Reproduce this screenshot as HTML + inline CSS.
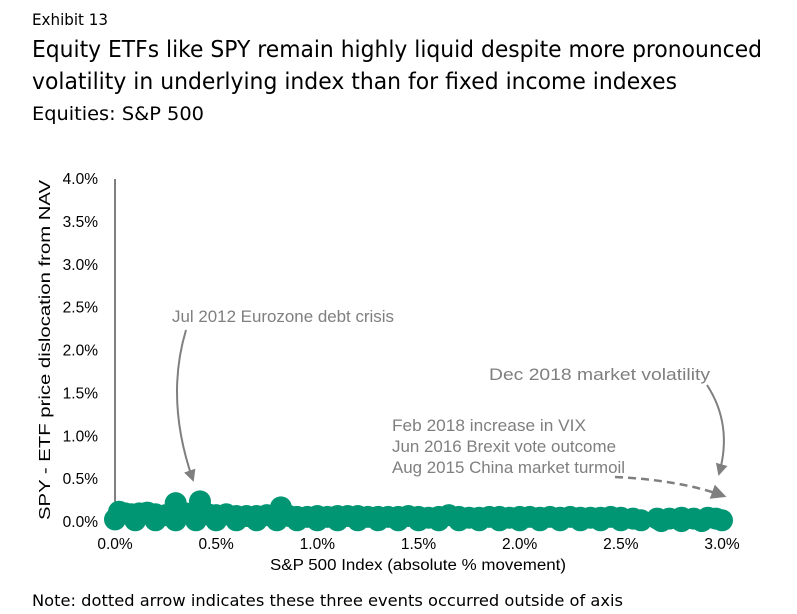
<!DOCTYPE html>
<html><head><meta charset="utf-8"><style>
body{margin:0;background:#fff}
svg{display:block;font-family:"Liberation Sans",sans-serif}
.t{font-family:"DejaVu Sans","Liberation Sans",sans-serif;fill:#000}
.ann{fill:#7f7f7f;font-size:17px;font-family:"Liberation Sans",sans-serif}
.tick{font-size:15.5px;fill:#000;font-family:"Liberation Sans",sans-serif}
</style></head><body>
<svg id="chart" width="797" height="614" viewBox="0 0 797 614">
<text class="t" x="32" y="25" font-size="16" textLength="76" lengthAdjust="spacingAndGlyphs">Exhibit 13</text>
<text class="t" x="32" y="57" font-size="23" textLength="730" lengthAdjust="spacingAndGlyphs">Equity ETFs like SPY remain highly liquid despite more pronounced</text>
<text class="t" x="32" y="89" font-size="23" textLength="645" lengthAdjust="spacingAndGlyphs">volatility in underlying index than for fixed income indexes</text>
<text class="t" x="32" y="120" font-size="19" textLength="172" lengthAdjust="spacingAndGlyphs">Equities: S&amp;P 500</text>
<text class="t" x="32" y="606" font-size="16" textLength="591" lengthAdjust="spacingAndGlyphs">Note: dotted arrow indicates these three events occurred outside of axis</text>
<g id="axes"></g>
<g id="points"></g>
<g id="annotations">
<defs><marker id="ah" markerWidth="6" markerHeight="6" refX="5" refY="3" orient="auto" markerUnits="strokeWidth"><path d="M0,0 L6,3 L0,6 z" fill="#7f7f7f"/></marker></defs>
<text class="ann" x="172" y="322" textLength="222" lengthAdjust="spacingAndGlyphs">Jul 2012 Eurozone debt crisis</text>
<path d="M186,330 Q165,400 193,480" fill="none" stroke="#7f7f7f" stroke-width="2" marker-end="url(#ah)"/>
<text class="ann" x="489" y="380" textLength="221" lengthAdjust="spacingAndGlyphs">Dec 2018 market volatility</text>
<path d="M707,385 Q733,425 719,474" fill="none" stroke="#7f7f7f" stroke-width="2" marker-end="url(#ah)"/>
<text class="ann" x="392" y="431" textLength="194" lengthAdjust="spacingAndGlyphs">Feb 2018 increase in VIX</text>
<text class="ann" x="392" y="452" textLength="224" lengthAdjust="spacingAndGlyphs">Jun 2016 Brexit vote outcome</text>
<text class="ann" x="392" y="473" textLength="233" lengthAdjust="spacingAndGlyphs">Aug 2015 China market turmoil</text>
<path d="M615,477 Q680,480 724,496" fill="none" stroke="#7f7f7f" stroke-width="2.5" stroke-dasharray="8,5" marker-end="url(#ah)"/>
</g>
</svg>
<script>
const xTicks=[0,0.5,1.0,1.5,2.0,2.5,3.0];
const yTicks=[0,0.5,1.0,1.5,2.0,2.5,3.0,3.5,4.0];
const xVals=[0.02,0.05,0.08,0.12,0.16,0.2,0.25,0.3,0.35,0.42,0.46,0.5,0.55,0.6,0.65,0.7,0.75,0.82,0.86,0.9,0.95,1.0,1.05,1.1,1.15,1.2,1.25,1.3,1.35,1.4,1.45,1.5,1.55,1.6,1.65,1.7,1.75,1.8,1.85,1.9,1.95,2.0,2.05,2.1,2.15,2.2,2.25,2.3,2.35,2.4,2.45,2.5,2.56,2.68,2.74,2.8,2.86,2.93,2.97];
const yVals=[0.12,0.1,0.09,0.1,0.11,0.09,0.08,0.22,0.1,0.24,0.09,0.08,0.09,0.07,0.07,0.07,0.08,0.17,0.07,0.06,0.06,0.07,0.06,0.07,0.07,0.07,0.06,0.06,0.06,0.06,0.07,0.06,0.05,0.06,0.08,0.06,0.05,0.05,0.06,0.06,0.05,0.06,0.06,0.05,0.06,0.05,0.06,0.05,0.05,0.05,0.06,0.05,0.04,0.04,0.04,0.05,0.04,0.05,0.04];
const baseX=[0.0,0.1,0.2,0.3,0.4,0.5,0.6,0.7,0.8,0.9,1.0,1.1,1.2,1.3,1.4,1.5,1.6,1.7,1.8,1.9,2.0,2.1,2.2,2.3,2.4,2.5,2.6,2.7,2.8,2.9,3.0];
const baseY=[0.03,0.02,0.02,0.02,0.02,0.02,0.02,0.02,0.02,0.02,0.02,0.02,0.02,0.02,0.02,0.02,0.02,0.02,0.02,0.02,0.02,0.02,0.02,0.02,0.02,0.02,0.02,0.01,0.01,0.01,0.02];
const X0=115,X1=722,Y0=522,Y1=179;
const sx=v=>X0+(v/3)*(X1-X0);
const sy=v=>Y0-(v/4)*(Y0-Y1);
const NS='http://www.w3.org/2000/svg';
const ax=document.getElementById('axes');
function mk(tag,attrs,parent){const e=document.createElementNS(NS,tag);for(const k in attrs)e.setAttribute(k,attrs[k]);parent.appendChild(e);return e;}
const yl=mk('line',{x1:X0,y1:Y1,x2:X0,y2:Y0+4,stroke:'#000','stroke-width':1},ax);


yTicks.forEach(v=>{const t=mk('text',{x:98,y:sy(v)+5,'text-anchor':'end',class:'tick'},ax);t.textContent=v.toFixed(1)+'%';

});
xTicks.forEach(v=>{const t=mk('text',{x:sx(v),y:549,'text-anchor':'middle',class:'tick'},ax);t.textContent=v.toFixed(1)+'%';

});
const xt=mk('text',{x:418,y:570,'text-anchor':'middle','font-size':15.5,textLength:296,lengthAdjust:'spacingAndGlyphs'},ax);xt.textContent='S&P 500 Index (absolute % movement)';


const yt=mk('text',{x:0,y:0,'text-anchor':'middle','font-size':16,textLength:340,lengthAdjust:'spacingAndGlyphs',transform:'translate(50,350) rotate(-90)'},ax);yt.textContent='SPY - ETF price dislocation from NAV';


const pg=document.getElementById('points');
function dot(x,y){const c=mk('circle',{cx:sx(x),cy:sy(y),r:11,fill:'#009673'},pg);

}
baseX.forEach((x,i)=>dot(x,baseY[i]));
xVals.forEach((x,i)=>dot(x,yVals[i]));
</script>
</body></html>
